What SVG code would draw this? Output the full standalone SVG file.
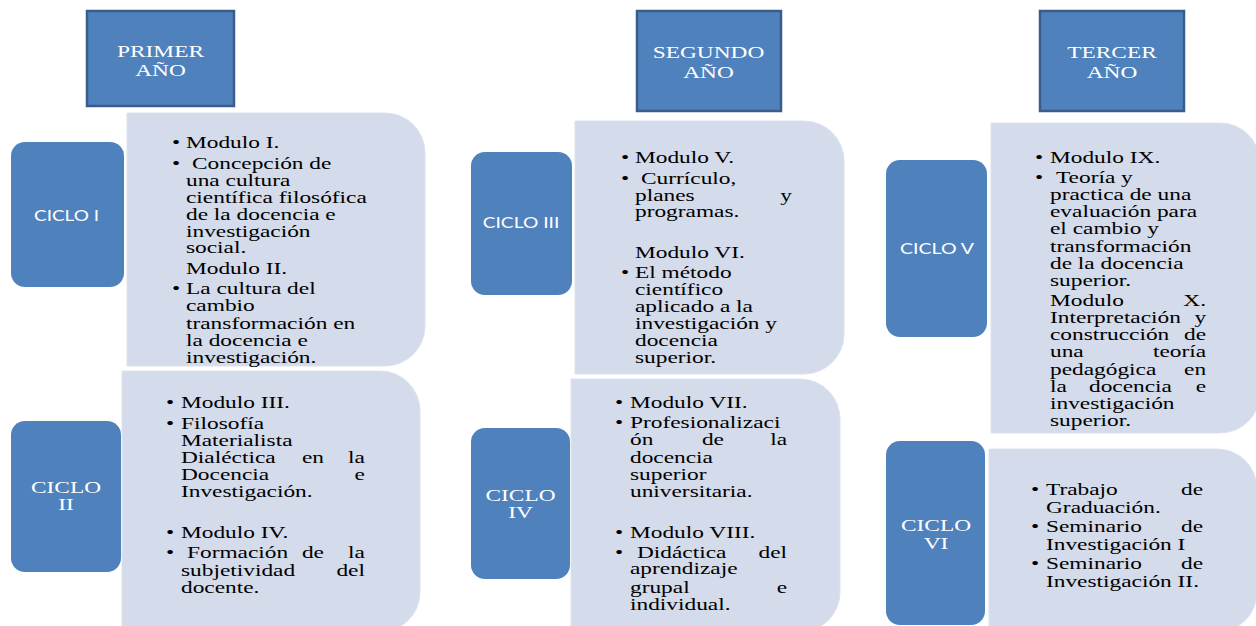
<svg xmlns="http://www.w3.org/2000/svg" width="1256" height="626" viewBox="0 0 1256 626">
<style>
.hdr{fill:#4f81bd;stroke:#385d8a;stroke-width:2.5}
.cic{fill:#4f81bd}
.box{fill:#d4dbea;stroke:#dde2ee;stroke-width:1}
.t{font-family:"Liberation Serif","Times New Roman",serif;font-size:17.5px;fill:#000}
.w{font-family:"Liberation Serif","Times New Roman",serif;font-size:17.5px;fill:#fff;text-anchor:middle}
.s{font-family:Lato,"Liberation Sans",sans-serif;font-size:15.5px;fill:#fff}
.e{text-anchor:end}
</style>
<rect width="1256" height="626" fill="#fff"/>

<g id="primer-ano">
<rect class="hdr" x="87" y="11" width="147" height="95"/>
<g transform="translate(160.5,0) scale(1.335,1)"><text class="w" x="0" y="57">PRIMER</text><text class="w" x="0" y="76">AÑO</text></g>
</g>
<g id="segundo-ano">
<rect class="hdr" x="637" y="11" width="144" height="100"/>
<g transform="translate(708.5,0) scale(1.335,1)"><text class="w" x="0" y="58">SEGUNDO</text><text class="w" x="0" y="78">AÑO</text></g>
</g>
<g id="tercer-ano">
<rect class="hdr" x="1040" y="11" width="144" height="100"/>
<g transform="translate(1112,0) scale(1.335,1)"><text class="w" x="0" y="58">TERCER</text><text class="w" x="0" y="78">AÑO</text></g>
</g>

<g id="ciclo-1">
<rect class="cic" x="11" y="142" width="113" height="145" rx="14"/>
<text class="s" x="34" y="221" textLength="65" lengthAdjust="spacingAndGlyphs">CICLO I</text>
</g>
<g id="ciclo-2">
<rect class="cic" x="11" y="421" width="110" height="151" rx="14"/>
<g transform="translate(66,0) scale(1.335,1)"><text class="w" x="0" y="493">CICLO</text><text class="w" x="0" y="510">II</text></g>
</g>
<g id="ciclo-3">
<rect class="cic" x="471" y="152" width="101" height="143" rx="14"/>
<text class="s" x="482.7" y="228" textLength="76.6" lengthAdjust="spacingAndGlyphs">CICLO III</text>
</g>
<g id="ciclo-4">
<rect class="cic" x="471" y="428" width="99" height="151" rx="14"/>
<g transform="translate(520.5,0) scale(1.335,1)"><text class="w" x="0" y="501">CICLO</text><text class="w" x="0" y="518">IV</text></g>
</g>
<g id="ciclo-5">
<rect class="cic" x="886" y="160" width="101" height="177" rx="14"/>
<text class="s" x="900" y="254" textLength="74" lengthAdjust="spacingAndGlyphs">CICLO V</text>
</g>
<g id="ciclo-6">
<rect class="cic" x="886" y="441" width="99" height="184" rx="14"/>
<g transform="translate(936,0) scale(1.335,1)"><text class="w" x="0" y="531">CICLO</text><text class="w" x="0" y="549">VI</text></g>
</g>

<g id="contenido-ciclo-1">
<path class="box" d="M127,113 H385 A40,40 0 0 1 425,153 V326 A40,40 0 0 1 385,366 H127 Z"/>
<g transform="translate(186,0) scale(1.335,1)">
<text class="t" x="-10.5" y="148">•</text><text class="t" x="0" y="148">Modulo I.</text>
<text class="t" x="-10.5" y="169">•</text><text class="t" x="4.5" y="169">Concepción de</text>
<text class="t" x="0" y="186">una cultura</text>
<text class="t" x="0" y="203">científica filosófica</text>
<text class="t" x="0" y="220">de la docencia e</text>
<text class="t" x="0" y="237">investigación</text>
<text class="t" x="0" y="253">social.</text>
<text class="t" x="0" y="274">Modulo II.</text>
<text class="t" x="-10.5" y="294">•</text><text class="t" x="0" y="294">La cultura del</text>
<text class="t" x="0" y="311">cambio</text>
<text class="t" x="0" y="329">transformación en</text>
<text class="t" x="0" y="346">la docencia e</text>
<text class="t" x="0" y="363">investigación.</text>
</g>
</g>

<g id="contenido-ciclo-2">
<path class="box" d="M122,371 H380 A40,40 0 0 1 420,411 V592 A40,40 0 0 1 380,632 H122 Z"/>
<g transform="translate(181,0) scale(1.335,1)">
<text class="t" x="-11.2" y="408">•</text><text class="t" x="0" y="408">Modulo III.</text>
<text class="t" x="-11.2" y="429">•</text><text class="t" x="0" y="429">Filosofía</text>
<text class="t" x="0" y="446">Materialista</text>
<text class="t" x="0" y="463">Dialéctica</text><text class="t" x="90.6" y="463">en</text><text class="t e" x="137.8" y="463">la</text>
<text class="t" x="0" y="480">Docencia</text><text class="t e" x="137.8" y="480">e</text>
<text class="t" x="0" y="497">Investigación.</text>
<text class="t" x="-11.2" y="538">•</text><text class="t" x="0" y="538">Modulo IV.</text>
<text class="t" x="-11.2" y="558">•</text><text class="t" x="4.5" y="558">Formación</text><text class="t" x="90.6" y="558">de</text><text class="t e" x="137.8" y="558">la</text>
<text class="t" x="0" y="576">subjetividad</text><text class="t e" x="137.8" y="576">del</text>
<text class="t" x="0" y="593">docente.</text>
</g>
</g>

<g id="contenido-ciclo-3">
<path class="box" d="M575,121 H804 A40,40 0 0 1 844,161 V334 A40,40 0 0 1 804,374 H575 Z"/>
<g transform="translate(635,0) scale(1.335,1)">
<text class="t" x="-10.5" y="163">•</text><text class="t" x="0" y="163">Modulo V.</text>
<text class="t" x="-10.5" y="184">•</text><text class="t" x="4.5" y="184">Currículo,</text>
<text class="t" x="0" y="201">planes</text><text class="t e" x="117.6" y="201">y</text>
<text class="t" x="0" y="217">programas.</text>
<text class="t" x="0" y="258">Modulo VI.</text>
<text class="t" x="-10.5" y="278">•</text><text class="t" x="0" y="278">El método</text>
<text class="t" x="0" y="295">científico</text>
<text class="t" x="0" y="312">aplicado a la</text>
<text class="t" x="0" y="329">investigación y</text>
<text class="t" x="0" y="346">docencia</text>
<text class="t" x="0" y="363">superior.</text>
</g>
</g>

<g id="contenido-ciclo-4">
<path class="box" d="M571,379 H800 A40,40 0 0 1 840,419 V592 A40,40 0 0 1 800,632 H571 Z"/>
<g transform="translate(630,0) scale(1.335,1)">
<text class="t" x="-11.2" y="408">•</text><text class="t" x="0" y="408">Modulo VII.</text>
<text class="t" x="-11.2" y="428">•</text><text class="t" x="0" y="428">Profesionalizaci</text>
<text class="t" x="0" y="445">ón</text><text class="t" x="53.9" y="445">de</text><text class="t e" x="117.6" y="445">la</text>
<text class="t" x="0" y="463">docencia</text>
<text class="t" x="0" y="480">superior</text>
<text class="t" x="0" y="497">universitaria.</text>
<text class="t" x="-11.2" y="538">•</text><text class="t" x="0" y="538">Modulo VIII.</text>
<text class="t" x="-11.2" y="558">•</text><text class="t" x="5.2" y="558">Didáctica</text><text class="t e" x="117.6" y="558">del</text>
<text class="t" x="0" y="574">aprendizaje</text>
<text class="t" x="0" y="593">grupal</text><text class="t e" x="117.6" y="593">e</text>
<text class="t" x="0" y="610">individual.</text>
</g>
</g>

<g id="contenido-ciclo-5">
<path class="box" d="M991,123 H1220 A40,40 0 0 1 1260,163 V393 A40,40 0 0 1 1220,433 H991 Z"/>
<g transform="translate(1050,0) scale(1.335,1)">
<text class="t" x="-11.2" y="163">•</text><text class="t" x="0" y="163">Modulo IX.</text>
<text class="t" x="-11.2" y="183">•</text><text class="t" x="4.5" y="183">Teoría y</text>
<text class="t" x="0" y="200">practica de una</text>
<text class="t" x="0" y="217">evaluación para</text>
<text class="t" x="0" y="234">el cambio y</text>
<text class="t" x="0" y="252">transformación</text>
<text class="t" x="0" y="269">de la docencia</text>
<text class="t" x="0" y="286">superior.</text>
<text class="t" x="0" y="306">Modulo</text><text class="t e" x="116.9" y="306">X.</text>
<text class="t" x="0" y="323">Interpretación</text><text class="t e" x="116.9" y="323">y</text>
<text class="t" x="0" y="340">construcción</text><text class="t e" x="116.9" y="340">de</text>
<text class="t" x="0" y="357">una</text><text class="t e" x="116.9" y="357">teoría</text>
<text class="t" x="0" y="375">pedagógica</text><text class="t e" x="116.9" y="375">en</text>
<text class="t" x="0" y="392">la</text><text class="t" x="29.2" y="392">docencia</text><text class="t e" x="116.9" y="392">e</text>
<text class="t" x="0" y="409">investigación</text>
<text class="t" x="0" y="426">superior.</text>
</g>
</g>

<g id="contenido-ciclo-6">
<path class="box" d="M989,449 H1217 A40,40 0 0 1 1257,489 V592 A40,40 0 0 1 1217,632 H989 Z"/>
<g transform="translate(1046,0) scale(1.335,1)">
<text class="t" x="-11.2" y="495">•</text><text class="t" x="0" y="495">Trabajo</text><text class="t e" x="117.6" y="495">de</text>
<text class="t" x="0" y="513">Graduación.</text>
<text class="t" x="-11.2" y="532">•</text><text class="t" x="0" y="532">Seminario</text><text class="t e" x="117.6" y="532">de</text>
<text class="t" x="0" y="550">Investigación I</text>
<text class="t" x="-11.2" y="569">•</text><text class="t" x="0" y="569">Seminario</text><text class="t e" x="117.6" y="569">de</text>
<text class="t" x="0" y="587">Investigación II.</text>
</g>
</g>
</svg>
